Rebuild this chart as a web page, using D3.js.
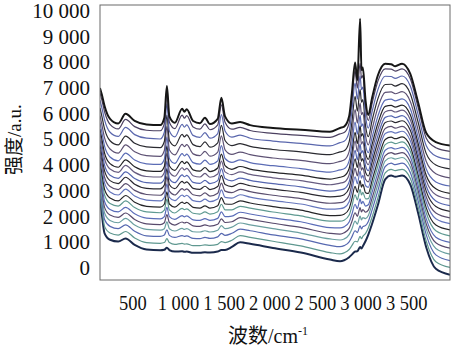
<!DOCTYPE html>
<html>
<head>
<meta charset="utf-8">
<script src="https://cdn.jsdelivr.net/npm/d3@7"></script>
<style>
  html, body { margin: 0; padding: 0; background: #fff; }
  svg { display: block; }
  svg text.serif { font-family: "Liberation Serif", serif !important; }
  svg text.cjk { font-family: "Noto Sans CJK SC", sans-serif !important; }
</style>
</head>
<body>
<svg id="chart" width="455" height="348"></svg>
<script>
// Raman shift grid (cm-1)
const wavenumbers = [140, 160, 190, 250, 340, 420, 520, 650, 800, 845, 873, 900, 960, 1040, 1065, 1090, 1160, 1235, 1290, 1345, 1430, 1470, 1510, 1585, 1675, 1785, 2035, 2340, 2660, 2770, 2815, 2870, 2900, 2935, 2960, 2990, 3005, 3020, 3050, 3080, 3120, 3185, 3265, 3330, 3375, 3450, 3540, 3625, 3715, 3820, 3975];

// Stacked spectra, from the lowest trace (s01) to the highest (s20)
const s01 = [2700, 2100, 1350, 1100, 1030, 1150, 900, 720, 690, 710, 790, 700, 640, 650, 630, 640, 590, 590, 610, 600, 640, 700, 700, 820, 1000, 940, 780, 600, 330, 260, 300, 420, 520, 640, 650, 820, 760, 850, 1050, 1300, 1700, 2450, 3450, 3600, 3550, 3600, 3250, 2150, 800, -30, -260];
const s02 = [2940, 2360, 1620, 1360, 1280, 1420, 1170, 990, 960, 990, 1140, 990, 920, 960, 930, 940, 870, 870, 900, 880, 920, 1030, 990, 1080, 1260, 1190, 1040, 860, 600, 550, 590, 720, 870, 1040, 1020, 1230, 1140, 1230, 1350, 1560, 1970, 2730, 3700, 3840, 3790, 3840, 3490, 2390, 1040, 240, 20];
const s03 = [3170, 2610, 1890, 1620, 1530, 1680, 1430, 1250, 1230, 1280, 1480, 1270, 1190, 1260, 1230, 1250, 1150, 1140, 1190, 1150, 1210, 1350, 1270, 1350, 1510, 1450, 1290, 1130, 880, 830, 870, 1020, 1210, 1450, 1380, 1640, 1520, 1610, 1650, 1810, 2240, 3010, 3950, 4080, 4020, 4080, 3720, 2620, 1290, 510, 290];
const s04 = [3390, 2840, 2140, 1850, 1760, 1930, 1670, 1500, 1470, 1530, 1800, 1530, 1440, 1540, 1500, 1530, 1410, 1400, 1450, 1400, 1470, 1650, 1530, 1590, 1750, 1680, 1530, 1360, 1130, 1090, 1130, 1300, 1520, 1820, 1710, 2020, 1870, 1960, 1920, 2040, 2480, 3260, 4170, 4290, 4240, 4300, 3940, 2840, 1510, 760, 540];
const s05 = [3580, 3050, 2360, 2060, 1970, 2140, 1890, 1720, 1690, 1760, 2080, 1770, 1670, 1790, 1750, 1780, 1640, 1620, 1680, 1630, 1700, 1910, 1770, 1800, 1960, 1890, 1740, 1580, 1350, 1320, 1370, 1540, 1810, 2150, 2010, 2350, 2180, 2270, 2170, 2250, 2700, 3490, 4370, 4490, 4430, 4490, 4130, 3030, 1710, 980, 770];
const s06 = [3780, 3260, 2590, 2280, 2180, 2360, 2110, 1940, 1910, 2000, 2360, 2000, 1890, 2040, 1990, 2030, 1870, 1850, 1920, 1850, 1930, 2180, 2000, 2020, 2170, 2100, 1950, 1800, 1570, 1560, 1600, 1790, 2090, 2480, 2310, 2690, 2500, 2590, 2410, 2460, 2930, 3710, 4580, 4680, 4630, 4690, 4330, 3230, 1910, 1200, 1000];
const s07 = [3990, 3500, 2840, 2510, 2410, 2610, 2350, 2180, 2150, 2250, 2680, 2260, 2140, 2320, 2270, 2300, 2130, 2100, 2180, 2100, 2190, 2480, 2260, 2260, 2400, 2330, 2180, 2030, 1820, 1820, 1860, 2060, 2400, 2850, 2650, 3060, 2840, 2940, 2690, 2700, 3170, 3970, 4800, 4900, 4840, 4910, 4540, 3440, 2140, 1450, 1250];
const s08 = [4180, 3700, 3060, 2720, 2610, 2820, 2560, 2400, 2370, 2480, 2960, 2490, 2370, 2560, 2510, 2550, 2360, 2330, 2420, 2330, 2420, 2740, 2490, 2480, 2610, 2530, 2390, 2250, 2040, 2050, 2090, 2310, 2690, 3180, 2940, 3400, 3150, 3250, 2930, 2900, 3390, 4190, 5000, 5090, 5030, 5100, 4730, 3630, 2340, 1670, 1480];
const s09 = [4400, 3940, 3310, 2960, 2840, 3070, 2800, 2640, 2610, 2740, 3270, 2750, 2620, 2840, 2780, 2830, 2620, 2580, 2680, 2580, 2680, 3040, 2750, 2720, 2850, 2760, 2620, 2490, 2290, 2310, 2350, 2580, 3000, 3550, 3280, 3770, 3500, 3600, 3200, 3140, 3640, 4440, 5230, 5310, 5250, 5320, 4950, 3850, 2560, 1920, 1730];
const s10 = [4590, 4150, 3530, 3170, 3050, 3280, 3020, 2860, 2830, 2970, 3560, 2990, 2840, 3090, 3030, 3080, 2850, 2810, 2920, 2800, 2910, 3300, 2990, 2930, 3060, 2970, 2830, 2700, 2520, 2540, 2590, 2830, 3280, 3880, 3580, 4110, 3810, 3910, 3450, 3350, 3860, 4670, 5430, 5510, 5440, 5510, 5140, 4040, 2760, 2140, 1950];
const s11 = [4810, 4380, 3780, 3400, 3280, 3530, 3260, 3100, 3080, 3230, 3870, 3250, 3090, 3370, 3300, 3350, 3100, 3060, 3180, 3050, 3170, 3600, 3250, 3170, 3290, 3200, 3070, 2940, 2770, 2800, 2850, 3110, 3600, 4250, 3910, 4490, 4160, 4260, 3720, 3580, 4100, 4920, 5660, 5720, 5660, 5730, 5360, 4260, 2980, 2390, 2200];
const s12 = [5000, 4590, 4000, 3610, 3490, 3740, 3480, 3320, 3300, 3460, 4160, 3480, 3320, 3620, 3550, 3600, 3330, 3290, 3410, 3280, 3400, 3870, 3480, 3390, 3500, 3410, 3280, 3160, 2990, 3040, 3080, 3350, 3880, 4580, 4210, 4820, 4470, 4570, 3970, 3790, 4320, 5150, 5860, 5920, 5850, 5930, 5550, 4450, 3180, 2610, 2430];
const s13 = [5220, 4820, 4250, 3850, 3720, 3990, 3720, 3560, 3540, 3720, 4470, 3740, 3570, 3900, 3820, 3880, 3590, 3540, 3680, 3530, 3660, 4160, 3740, 3630, 3740, 3640, 3510, 3400, 3240, 3300, 3340, 3630, 4190, 4950, 4540, 5200, 4820, 4920, 4240, 4020, 4570, 5400, 6080, 6130, 6070, 6140, 5770, 4670, 3400, 2850, 2680];
const s14 = [5410, 5030, 4470, 4060, 3920, 4210, 3940, 3780, 3760, 3950, 4750, 3980, 3800, 4150, 4060, 4130, 3820, 3770, 3910, 3750, 3890, 4430, 3980, 3840, 3950, 3850, 3720, 3610, 3460, 3530, 3580, 3870, 4480, 5280, 4840, 5530, 5130, 5230, 4480, 4230, 4790, 5630, 6290, 6330, 6260, 6340, 5960, 4860, 3600, 3080, 2900];
const s15 = [5650, 5290, 4740, 4320, 4170, 4470, 4200, 4050, 4030, 4230, 5100, 4260, 4070, 4450, 4360, 4430, 4100, 4040, 4200, 4030, 4170, 4760, 4260, 4110, 4210, 4100, 3980, 3870, 3730, 3820, 3860, 4170, 4820, 5680, 5210, 5940, 5510, 5610, 4780, 4490, 5060, 5910, 6530, 6570, 6500, 6580, 6200, 5100, 3850, 3350, 3190];
const s16 = [5930, 5590, 5060, 4630, 4470, 4790, 4520, 4370, 4340, 4570, 5510, 4600, 4400, 4810, 4720, 4800, 4440, 4370, 4540, 4350, 4510, 5140, 4600, 4420, 4510, 4410, 4280, 4190, 4060, 4150, 4200, 4530, 5230, 6160, 5640, 6430, 5970, 6060, 5140, 4790, 5380, 6240, 6830, 6850, 6780, 6860, 6480, 5380, 4140, 3670, 3510];
const s17 = [6230, 5910, 5410, 4950, 4790, 5130, 4850, 4710, 4680, 4920, 5950, 4960, 4750, 5200, 5100, 5180, 4800, 4720, 4910, 4700, 4870, 5550, 4960, 4760, 4840, 4730, 4610, 4520, 4410, 4520, 4560, 4910, 5670, 6680, 6100, 6950, 6450, 6550, 5520, 5110, 5720, 6590, 7140, 7150, 7080, 7170, 6780, 5680, 4450, 4010, 3860];
const s18 = [6530, 6240, 5760, 5280, 5120, 5470, 5190, 5050, 5020, 5280, 6390, 5330, 5100, 5590, 5480, 5570, 5160, 5080, 5270, 5050, 5230, 5970, 5330, 5090, 5170, 5050, 4940, 4850, 4750, 4880, 4930, 5300, 6110, 7190, 6570, 7480, 6940, 7040, 5900, 5440, 6060, 6940, 7460, 7450, 7380, 7470, 7080, 5980, 4760, 4360, 4220];
const s19 = [6810, 6540, 6080, 5590, 5410, 5780, 5500, 5360, 5340, 5620, 6800, 5670, 5420, 5950, 5830, 5930, 5490, 5400, 5610, 5380, 5570, 6350, 5670, 5400, 5470, 5350, 5240, 5160, 5080, 5220, 5270, 5650, 6520, 7670, 7000, 7960, 7390, 7490, 6250, 5740, 6380, 7270, 7750, 7740, 7660, 7750, 7360, 6260, 5050, 4680, 4540];
const s20 = [7000, 6750, 6300, 5800, 5620, 6000, 5720, 5580, 5560, 5850, 7080, 5900, 5650, 6200, 6080, 6180, 5720, 5630, 5850, 5600, 5800, 6620, 5900, 5620, 5680, 5560, 5450, 5380, 5300, 5450, 5500, 5900, 6800, 8000, 7300, 9700, 7700, 7800, 6500, 5950, 6600, 7500, 7950, 7930, 7850, 7950, 7550, 6450, 5250, 4900, 4770];

const spectra = [s01, s02, s03, s04, s05, s06, s07, s08, s09, s10, s11, s12, s13, s14, s15, s16, s17, s18, s19, s20];
const traceColors = ["#1b2a4c", "#5f9890", "#5668b0", "#6a9fa0", "#584a6c", "#5a6cb8", "#5f9a92", "#252528",
                     "#6576bd", "#5a4e6e", "#2a2830", "#5566b0", "#675c80", "#232326", "#5b6cb5", "#5e5274",
                     "#2a2a30", "#5a67ad", "#4b4060", "#161616"];

const xTicks = [500, 1000, 1500, 2000, 2500, 3000, 3500];
const yTicks = [0, 1000, 2000, 3000, 4000, 5000, 6000, 7000, 8000, 9000, 10000];

const svg = d3.select("#chart");
const plot = { left: 100, right: 450, top: 5, bottom: 280 };
const SERIF = "Liberation Serif";
const CJK = "Noto Sans CJK SC";

const x = d3.scaleLinear().domain([140, 3975]).range([plot.left, plot.right]);
const y = d3.scaleLinear().domain([-467, 10233]).range([plot.bottom, plot.top]);

const fmt = v => d3.format(",")(v).replace(/,/g, " ");

// traces
const line = d3.line()
  .x((d, i) => x(wavenumbers[i]))
  .y(d => y(d))
  .curve(d3.curveMonotoneX);

svg.append("clipPath").attr("id", "plotclip").append("rect")
  .attr("x", plot.left).attr("y", plot.top)
  .attr("width", plot.right - plot.left).attr("height", plot.bottom - plot.top);

svg.append("g").attr("clip-path", "url(#plotclip)")
  .selectAll("path").data(spectra).join("path")
  .attr("d", d => line(d))
  .attr("fill", "none")
  .attr("stroke", (d, i) => traceColors[i])
  .attr("stroke-width", (d, i) => (i === 0 || i === spectra.length - 1) ? 2 : 1.2)
  .attr("stroke-linejoin", "round");

// frame
svg.append("rect")
  .attr("x", plot.left).attr("y", plot.top)
  .attr("width", plot.right - plot.left).attr("height", plot.bottom - plot.top)
  .attr("fill", "none").attr("stroke", "#6a6a6a").attr("stroke-width", 1);

// y tick labels
svg.selectAll("text.ylab").data(yTicks).join("text")
  .attr("class", "ylab serif")
  .attr("x", plot.left - 10)
  .attr("y", d => y(d) + 7)
  .attr("text-anchor", "end")
  .attr("font-size", 21)
  .attr("font-family", SERIF)
  .style("font-family", SERIF)
  .attr("fill", "#111")
  .text(fmt);

// x tick labels, slightly condensed
svg.selectAll("text.xlab").data(xTicks).join("text")
  .attr("class", "xlab serif")
  .attr("transform", d => `translate(${x(d)},309.5) scale(0.88,1)`)
  .attr("text-anchor", "middle")
  .attr("font-size", 21)
  .attr("font-family", SERIF)
  .style("font-family", SERIF)
  .attr("fill", "#111")
  .text(fmt);

// y axis title: CJK part below, unit above (reads bottom to top)
const yTitle = svg.append("g").attr("transform", "translate(21,139) rotate(-90)");
yTitle.append("text")
  .attr("class", "cjk")
  .attr("x", 2).attr("text-anchor", "end")
  .attr("font-size", 19).attr("font-family", CJK).attr("fill", "#111")
  .text("强度");
yTitle.append("text")
  .attr("class", "serif")
  .attr("x", 2).attr("text-anchor", "start")
  .attr("font-size", 19).attr("font-family", SERIF).style("font-family", SERIF).attr("fill", "#111")
  .text("/a.u.");

// x axis title
svg.append("text")
  .attr("class", "cjk")
  .attr("x", 268).attr("y", 343).attr("text-anchor", "end")
  .attr("font-size", 20).attr("font-family", CJK).attr("fill", "#111")
  .text("波数");
svg.append("text")
  .attr("class", "serif")
  .attr("x", 268).attr("y", 343).attr("text-anchor", "start")
  .attr("font-size", 20).attr("font-family", SERIF).style("font-family", SERIF).attr("fill", "#111")
  .text("/cm");
svg.append("text")
  .attr("class", "serif")
  .attr("x", 298).attr("y", 335).attr("text-anchor", "start")
  .attr("font-size", 12).attr("font-family", SERIF).style("font-family", SERIF).attr("fill", "#111")
  .text("-1");
</script>
</body>
</html>
